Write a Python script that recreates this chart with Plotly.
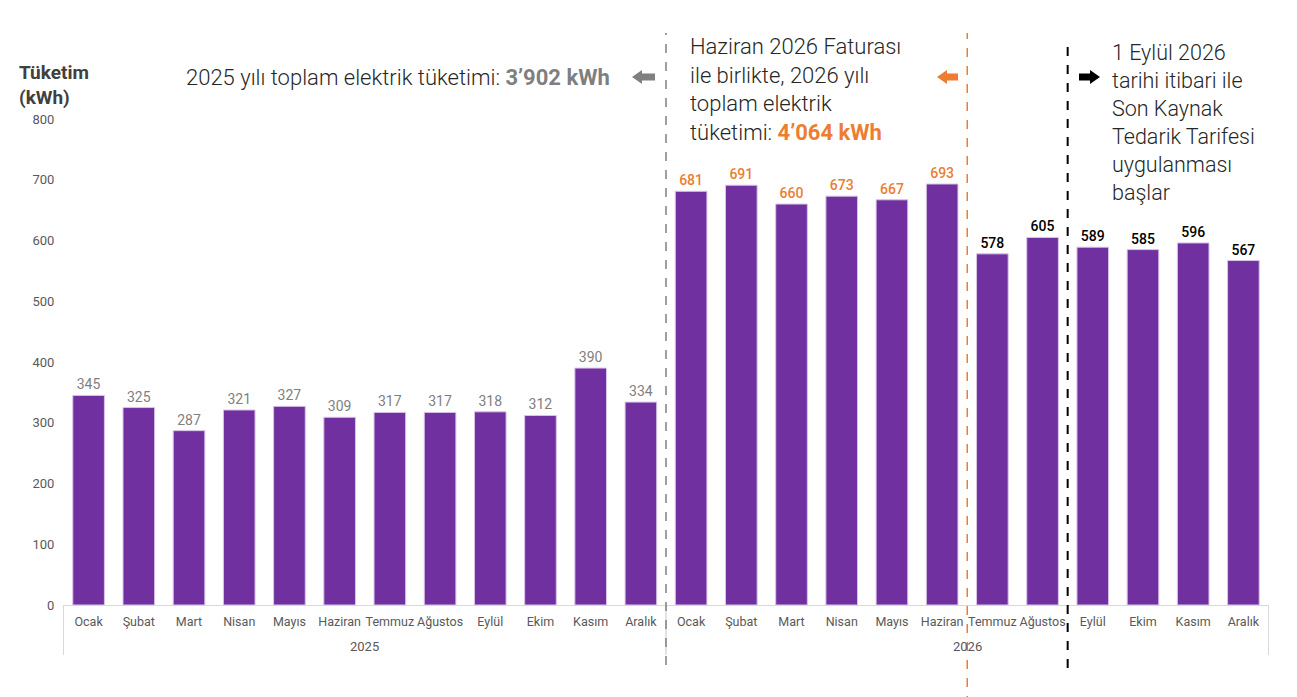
import plotly.graph_objects as go

years = ["2025"] * 12 + ["2026"] * 12
months = ["Ocak", "Şubat", "Mart", "Nisan", "Mayıs", "Haziran",
          "Temmuz", "Ağustos", "Eylül", "Ekim", "Kasım", "Aralık"] * 2
consumption = [345, 325, 287, 321, 327, 309, 317, 317, 318, 312, 390, 334,
               681, 691, 660, 673, 667, 693, 578, 605, 589, 585, 596, 567]
label_colors = ["#7f7f7f"] * 12 + ["#ED7D31"] * 6 + ["#000000"] * 6
label_weights = [400] * 12 + [500] * 12

keys = [f"{y}-{m}" for y, m in zip(years, months)]

W, H = 1297, 697
OFF = 8  # page body margin
# plot box in screen pixels: left 63, right 1269, top 119, bottom 605
L, R, T, B = 63 - OFF, W - (1269 - OFF), 119 - OFF, H - (605 - OFF)


def px(x):
    return (x - OFF - L) / (W - L - R)


def py(y):
    return (H - B - (y - OFF)) / (H - T - B)


fig = go.Figure()
fig.add_trace(go.Bar(
    x=keys,
    y=consumption,
    marker=dict(color="#7030A0", line=dict(color="#D9C3EA", width=1)),
    text=[str(v) for v in consumption],
    textposition="outside",
    textfont=dict(family="Roboto", size=14, color=label_colors, weight=label_weights),
    cliponaxis=False,
    hoverinfo="skip",
))

# year groups: label at group centre, dividers at group edges
groups = []
for i, y in enumerate(years):
    if not groups or groups[-1][0] != y:
        groups.append([y, i, i])
    groups[-1][2] = i

shapes = []
annotations = []
for y, a, b in groups:
    annotations.append(dict(text=y, xref="x", yref="paper", x=(a + b) / 2, y=py(646),
                            yanchor="middle", showarrow=False,
                            font=dict(family="Roboto", size=13, color="#595959")))
    for edge in (a - 0.5, b + 0.5):
        shapes.append(dict(type="line", xref="x", yref="paper", x0=edge, x1=edge,
                           y0=0, y1=py(655), line=dict(color="#D9D9D9", width=1)))

shapes += [
    # vertical dashed separators
    dict(type="line", xref="x", yref="paper", x0=11.5, x1=11.5, y0=py(665), y1=py(33),
         line=dict(color="#808080", width=1.5, dash="dash")),
    dict(type="line", xref="x", yref="paper", x0=17.5, x1=17.5, y0=py(705), y1=py(33),
         line=dict(color="#ED7D31", width=1.5, dash="dash")),
    dict(type="line", xref="x", yref="paper", x0=19.5, x1=19.5, y0=py(668), y1=py(40),
         line=dict(color="#000000", width=2, dash="dash")),
]


def arrow(x_tip, x_tail, yc, color, left=True):
    # block arrow drawn in paper coords
    hh, sh = 7, 3.5
    head = 10 if left else -10
    pts = [(x_tip, yc), (x_tip + head, yc - hh), (x_tip + head, yc - sh),
           (x_tail, yc - sh), (x_tail, yc + sh), (x_tip + head, yc + sh),
           (x_tip + head, yc + hh)]
    path = "M " + " L ".join(f"{px(a):.5f},{py(b):.5f}" for a, b in pts) + " Z"
    return dict(type="path", xref="paper", yref="paper", path=path,
                fillcolor=color, line=dict(width=0))


shapes.append(arrow(632, 655, 77, "#808080"))
shapes.append(arrow(937, 958, 77, "#ED7D31"))
shapes.append(arrow(1100, 1079, 77, "#000000", left=False))

txt_font = dict(family="Roboto", size=22, color="#262626", weight=300)
annotations += [
    dict(text="Tüketim<br>(kWh)", xref="paper", yref="paper", x=px(17), y=py(59),
         xanchor="left", yanchor="top", align="left", showarrow=False,
         font=dict(family="Roboto", size=19, color="#404040", weight=700)),
    dict(text="2025 yılı toplam elektrik tüketimi: "
              "<span style='color:#7f7f7f;font-weight:700'>3’902 kWh</span>",
         xref="paper", yref="paper", x=px(184), y=py(77),
         xanchor="left", yanchor="middle", showarrow=False, font=txt_font),
    dict(text="Haziran 2026 Faturası<br>ile birlikte, 2026 yılı<br>toplam elektrik<br>"
              "tüketimi: <span style='color:#ED7D31;font-weight:700'>4’064 kWh</span>",
         xref="paper", yref="paper", x=px(688), y=py(32),
         xanchor="left", yanchor="top", align="left", showarrow=False, font=txt_font),
    dict(text="1 Eylül 2026<br>tarihi itibari ile<br>Son Kaynak<br>Tedarik Tarifesi<br>"
              "uygulanması<br>başlar",
         xref="paper", yref="paper", x=px(1110), y=py(38),
         xanchor="left", yanchor="top", align="left", showarrow=False,
         font=dict(family="Roboto", size=21.5, color="#262626", weight=300)),
]

fig.update_layout(
    width=W, height=H,
    margin=dict(l=L, r=R, t=T, b=B),
    plot_bgcolor="white", paper_bgcolor="white",
    bargap=0.37,
    showlegend=False,
    font=dict(family="Roboto", color="#595959"),
    shapes=shapes,
    annotations=annotations,
)
fig.update_xaxes(
    type="category",
    tickvals=keys, ticktext=months,
    tickfont=dict(family="Roboto", size=12.5, color="#595959"),
    tickangle=0,
    showline=True, linecolor="#D9D9D9", linewidth=1,
    ticks="", ticklabelstandoff=5,
)
fig.update_yaxes(
    range=[0, 800], dtick=100,
    showgrid=False, zeroline=False, showline=False,
    tickfont=dict(family="Roboto", size=13, color="#595959"),
    ticks="outside", ticklen=5, tickcolor="rgba(0,0,0,0)",
)

fig.write_html("out.html")
